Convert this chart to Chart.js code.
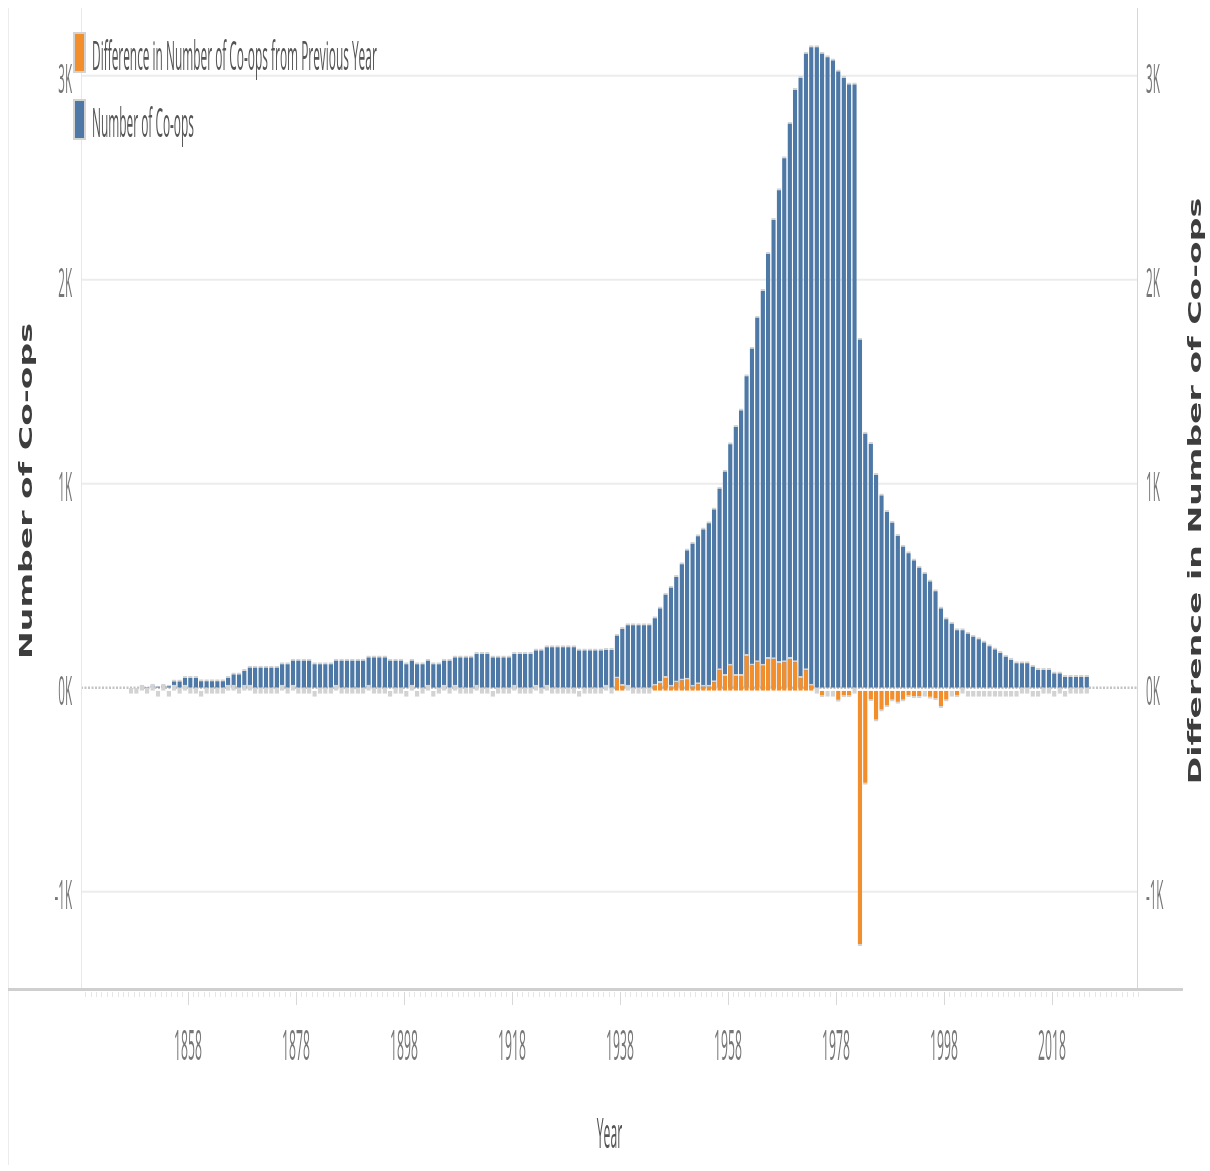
<!DOCTYPE html>
<html>
<head>
<meta charset="utf-8">
<title>Number of Co-ops by Year</title>
<script src="https://cdn.jsdelivr.net/npm/chart.js@4.4.1/dist/chart.umd.min.js"></script>
<style>
  html, body { margin: 0; padding: 0; background: #fff; }
  #wrap { width: 1210px; height: 1171px; position: relative; }
</style>
</head>
<body>
<div id="wrap"><canvas id="coopChart"></canvas></div>
<script>
// one value per year, starting at firstYear
const firstYear = 1847;

const coops = [
    0, 0, 5, 5, 20, 10, 20, 15, 40, 40,
    58, 58, 58, 42, 42, 42, 42, 42, 58, 75,
    75, 92, 108, 108, 108, 108, 108, 108, 125, 125,
    142, 142, 142, 142, 125, 125, 125, 125, 142, 142,
    142, 142, 142, 142, 158, 158, 158, 158, 142, 142,
    142, 125, 142, 125, 125, 142, 125, 125, 142, 142,
    158, 158, 158, 158, 175, 175, 175, 158, 158, 158,
    158, 175, 175, 175, 175, 192, 192, 208, 208, 208,
    208, 208, 208, 192, 192, 192, 192, 192, 195, 195,
    265, 298, 316, 316, 316, 316, 316, 350, 398, 466,
    500, 552, 615, 683, 716, 752, 785, 816, 884, 985,
    1069, 1203, 1288, 1369, 1537, 1672, 1824, 1954, 2136, 2302,
    2449, 2605, 2775, 2940, 2999, 3117, 3149, 3149, 3117, 3100,
    3085, 3031, 2999, 2967, 2967, 1716, 1255, 1204, 1053, 952,
    871, 818, 754, 701, 669, 633, 598, 569, 530, 483,
    398, 345, 323, 291, 291, 274, 260, 248, 231, 213,
    197, 180, 162, 146, 130, 130, 130, 113, 97, 97,
    97, 80, 80, 62, 62, 62, 62, 62
];

const diffs = [
    0, 0, 5, 0, 15, -10, 10, -5, 25, 0,
    18, 0, 0, -16, 0, 0, 0, 0, 16, 17,
    0, 17, 16, 0, 0, 0, 0, 0, 17, 0,
    17, 0, 0, 0, -17, 0, 0, 0, 17, 0,
    0, 0, 0, 0, 16, 0, 0, 0, -16, 0,
    0, -17, 17, -17, 0, 17, -17, 0, 17, 0,
    16, 0, 0, 0, 17, 0, 0, -17, 0, 0,
    0, 17, 0, 0, 0, 17, 0, 16, 0, 0,
    0, 0, 0, -16, 0, 0, 0, 0, 3, 0,
    70, 33, 18, 0, 0, 0, 0, 34, 48, 72,
    30, 50, 60, 64, 30, 42, 30, 30, 52, 110,
    82, 132, 82, 82, 180, 134, 150, 132, 165, 164,
    146, 150, 166, 150, 72, 110, 34, 0, -32, -17,
    -15, -54, -32, -32, 0, -1251, -461, -51, -151, -101,
    -81, -53, -64, -53, -32, -36, -35, -29, -39, -47,
    -85, -53, -22, -32, 0, -17, -14, -12, -17, -18,
    -16, -17, -18, -16, -16, 0, 0, -17, -16, 0,
    0, -17, 0, -18, 0, 0, 0, 0
];

const xTickYears = [1858, 1878, 1898, 1918, 1938, 1958, 1978, 1998, 2018];
const yTickValues = [-1000, 0, 1000, 2000, 3000];
const yTickLabels = ['-1K', '0K', '1K', '2K', '3K'];

const BLUE = '#4e79a7';
const ORANGE = '#f28e2b';
const HALO = '#d3d3d3';
const SQUEEZE = 0.29;   // the tableau text is very narrow

const years = coops.map((_, i) => firstYear + i);

function squeezed(ctx, text, x, y, align, size, color) {
    ctx.save();
    ctx.font = size + 'px "Open Sans"';
    ctx.fillStyle = color;
    ctx.textBaseline = 'alphabetic';
    ctx.textAlign = align;
    ctx.translate(x, y);
    ctx.scale(SQUEEZE, 1);
    ctx.fillText(text, 0, 0);
    ctx.restore();
}

function sideTitle(ctx, text, x, y) {
    ctx.save();
    ctx.font = 'bold 17px "DejaVu Sans"';
    ctx.fillStyle = '#3d3d3d';
    ctx.textAlign = 'center';
    ctx.textBaseline = 'alphabetic';
    ctx.translate(x, y);
    ctx.rotate(-Math.PI / 2);
    ctx.scale(1.95, 1);
    ctx.fillText(text, 0, 0);
    ctx.restore();
}

// tiny differences only show their grey halo
const isTiny = c => Math.abs(c.raw.y) < 30;

const frame = {
    id: 'frame',
    beforeDatasetsDraw(chart) {
        const {ctx, chartArea: a, scales: {y}} = chart;
        ctx.save();
        // gridlines, the zero one dotted
        yTickValues.forEach(v => {
            const py = y.getPixelForValue(v);
            ctx.beginPath();
            if (v === 0) {
                ctx.strokeStyle = '#c4c4c4';
                ctx.lineWidth = 2.5;
                ctx.setLineDash([2, 1.5]);
            } else {
                ctx.strokeStyle = '#ececec';
                ctx.lineWidth = 2;
                ctx.setLineDash([]);
            }
            ctx.moveTo(a.left, py);
            ctx.lineTo(a.right, py);
            ctx.stroke();
        });
        ctx.restore();
    },
    afterDraw(chart) {
        const {ctx, chartArea: a, scales: {x, y}} = chart;
        ctx.save();

        // panes
        ctx.fillStyle = '#ececec';
        ctx.fillRect(8, 8, 1, 1157);
        ctx.fillStyle = '#e8e8e8';
        ctx.fillRect(a.left, a.top, 1, a.bottom - a.top);
        ctx.fillStyle = '#d6d6d6';
        ctx.fillRect(a.right - 1, a.top, 1, a.bottom - a.top);
        ctx.fillStyle = '#cfcfcf';
        ctx.fillRect(8, a.bottom, 1175, 3);

        // year ticks sit on the bar edges
        for (let yr = Math.ceil(x.min + 0.5); yr <= Math.floor(x.max + 0.5); yr++) {
            const px = Math.round(x.getPixelForValue(yr - 0.5));
            const major = xTickYears.includes(yr);
            ctx.fillStyle = major ? '#d8d8d8' : '#e6e6e6';
            ctx.fillRect(px, a.bottom + 4, 1, major ? 13 : 5);
            if (major) squeezed(ctx, String(yr), px, 1060, 'center', 42, '#777');
        }

        yTickValues.forEach((v, i) => {
            const py = y.getPixelForValue(v);
            squeezed(ctx, yTickLabels[i], a.left - 9, py + 17, 'right', 40, '#777');
            squeezed(ctx, yTickLabels[i], a.right + 8, py + 17, 'left', 40, '#777');
        });

        squeezed(ctx, 'Year', (a.left + a.right) / 2, 1148, 'center', 42, '#555');
        sideTitle(ctx, 'Number of Co-ops', 32, 491);
        sideTitle(ctx, 'Difference in Number of Co-ops', 1201, 491);

        // legend
        const items = [
            [ORANGE, 'Difference in Number of Co-ops from Previous Year', 32],
            [BLUE, 'Number of Co-ops', 99]
        ];
        items.forEach(([col, label, top]) => {
            ctx.fillStyle = HALO;
            ctx.fillRect(73, top, 13, 41);
            ctx.fillStyle = col;
            ctx.fillRect(75, top + 2, 9, 37);
            squeezed(ctx, label, 92, top + 38, 'left', 41, '#555');
        });

        ctx.restore();
    }
};

const yMin = -1472, yMax = 3332;
const rightShift = 15;   // orange axis zero sits a few px lower

new Chart(document.getElementById('coopChart'), {
    type: 'bar',
    data: {
        datasets: [{
            label: 'Number of Co-ops',
            data: years.map((yr, i) => ({x: yr, y: coops[i]})),
            yAxisID: 'y',
            order: 2,
            backgroundColor: BLUE,
            borderColor: HALO,
            borderWidth: {top: 2},
            borderSkipped: 'start'
        }, {
            label: 'Difference in Number of Co-ops from Previous Year',
            data: years.map((yr, i) => ({x: yr, y: diffs[i]})),
            yAxisID: 'y1',
            order: 1,
            backgroundColor: ORANGE,
            borderColor: HALO,
            borderWidth: c => isTiny(c) ? {top: 3, bottom: 3} : {top: 2, bottom: 2},
            borderSkipped: c => isTiny(c) ? false : 'start',
            minBarLength: 6
        }]
    },
    options: {
        responsive: true,
        maintainAspectRatio: false,
        animation: false,
        events: [],
        grouped: false,
        barPercentage: 0.83,
        categoryPercentage: 1,
        layout: {padding: {left: 81, right: 72, top: 8, bottom: 183}},
        plugins: {legend: {display: false}, tooltip: {enabled: false}},
        scales: {
            x: {
                type: 'linear',
                display: false,
                offset: false,
                bounds: 'data',
                min: 1837.74,
                max: 2033.5
            },
            y: {
                position: 'left',
                display: false,
                min: yMin,
                max: yMax
            },
            y1: {
                position: 'right',
                display: false,
                min: yMin + rightShift,
                max: yMax + rightShift
            }
        }
    },
    plugins: [frame]
});
</script>
</body>
</html>
